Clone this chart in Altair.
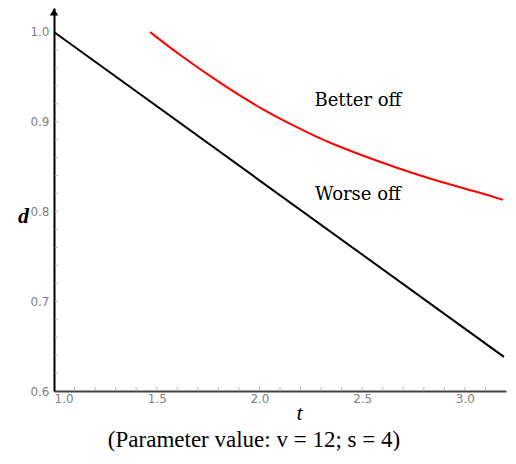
import altair as alt
import pandas as pd

# Black line (indifference boundary)
black_t = [1.0, 3.19]
black_d = [1.0, 0.638]

# Red curve
red_t = [1.467, 1.613, 1.808, 2.002, 2.197, 2.343, 2.586, 2.83, 3.073, 3.185]
red_d = [1.0, 0.974, 0.943, 0.915, 0.892, 0.876, 0.855, 0.836, 0.821, 0.813]

# Region labels
label_text = ["Better off", "Worse off"]
label_t = [2.479, 2.479]
label_d = [0.923, 0.818]

# Tick values
x_major = [1.0, 1.5, 2.0, 2.5, 3.0]
y_major = [0.6, 0.7, 0.8, 0.9, 1.0]
x_minor = [1.1, 1.2, 1.3, 1.4, 1.5, 1.6, 1.7, 1.8, 1.9, 2.0, 2.1, 2.2,
           2.3, 2.4, 2.5, 2.6, 2.7, 2.8, 2.9, 3.0, 3.1]
y_minor = [0.62, 0.64, 0.66, 0.68, 0.70, 0.72, 0.74, 0.76, 0.78, 0.80,
           0.82, 0.84, 0.86, 0.88, 0.90, 0.92, 0.94, 0.96, 0.98]

caption = "(Parameter value: v = 12; s = 4)"

W, H = 452, 383
xs = alt.Scale(domain=[1.0, 3.2], nice=False, zero=False)
ys = alt.Scale(domain=[0.6, 1.0267], nice=False, zero=False)

black_df = pd.DataFrame({"t": black_t, "d": black_d})
red_df = pd.DataFrame({"t": red_t, "d": red_d})
lab_df = pd.DataFrame({"label": label_text, "t": label_t, "d": label_d})
xm_df = pd.DataFrame({"t": x_minor})
ym_df = pd.DataFrame({"d": y_minor})

common = dict(ticks=False, grid=False, format=".1f",
              labelFont="DejaVu Sans", labelFontSize=12, labelColor="#808080",
              titleFont="Liberation Serif", titleFontStyle="italic",
              titleFontSize=22, titleColor="black", titleBaseline="middle",
              domainWidth=2)

x_axis = alt.Axis(values=x_major, title="t", domainColor="#444", labelPadding=2,
                  titleFontWeight="normal", titleX=245, titleY=21, **common)
y_axis = alt.Axis(values=y_major, title="d", domainColor="black", labelPadding=5,
                  titleFontWeight="bold", titleAngle=0, titleX=-31, titleY=207,
                  titleAlign="center", **common)

X = alt.X("t:Q", scale=xs, axis=x_axis)
Y = alt.Y("d:Q", scale=ys, axis=y_axis)

xticks = alt.Chart(xm_df).mark_rule(color="#bbb", strokeWidth=1).encode(
    x=X,
    y=alt.value(H - 1),
    y2=alt.value(H - 4),
)
yticks = alt.Chart(ym_df).mark_rule(color="#bbb", strokeWidth=1).encode(
    y=Y,
    x=alt.value(1),
    x2=alt.value(4),
)
black = alt.Chart(black_df).mark_line(color="black", strokeWidth=2).encode(x=X, y=Y)
red = alt.Chart(red_df).mark_line(color="#ff0000", strokeWidth=2,
                                  interpolate="basis").encode(x=X, y=Y)
labels = alt.Chart(lab_df).mark_text(font="DejaVu Serif", fontSize=18,
                                     color="black").encode(x=X, y=Y, text="label:N")
arrow = alt.Chart(pd.DataFrame({"a": [0]})).mark_point(
    shape="triangle-up", filled=True, color="black", size=70, opacity=1
).encode(x=alt.value(0), y=alt.value(4))

chart = alt.layer(black, red, xticks, yticks, labels, arrow).properties(
    width=W, height=H,
    title=alt.TitleParams(text=caption, orient="bottom", anchor="middle",
                          font="Liberation Serif", fontSize=23, fontWeight="normal",
                          color="black", offset=6, dx=-26),
    autosize=alt.AutoSizeParams(type="none"),
    padding={"left": 46, "top": 0, "right": 2, "bottom": 60},
    background="white",
).configure_view(stroke=None)

chart.save("out.html", embed_options={"renderer": "svg", "actions": False})
